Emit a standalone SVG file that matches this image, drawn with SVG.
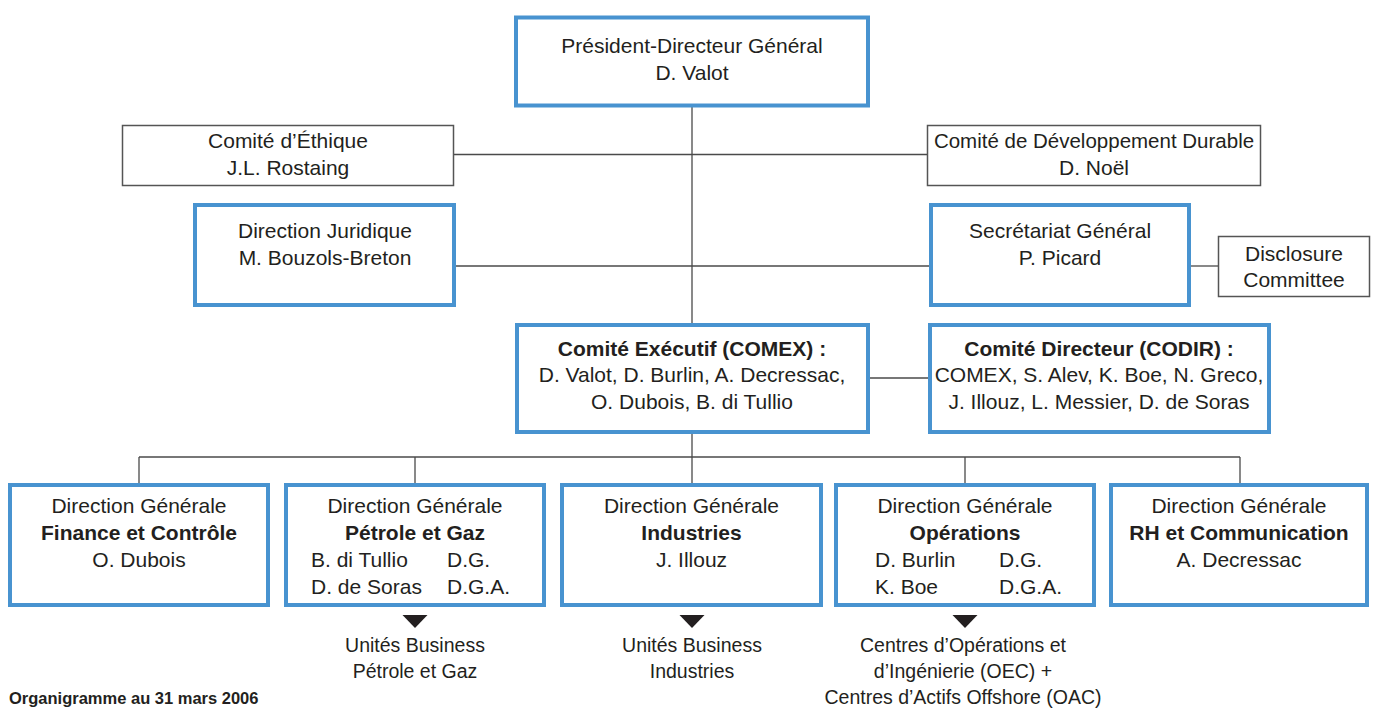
<svg xmlns="http://www.w3.org/2000/svg" width="1378" height="708" viewBox="0 0 1378 708">
<style>
  .blue { fill: #ffffff; stroke: #4893d0; stroke-width: 4; }
  .thin { fill: #ffffff; stroke: #555555; stroke-width: 1.5; }
  .conn { stroke: #4a4a4a; stroke-width: 1.3; fill: none; }
  text { font-family: "Liberation Sans", Arial, sans-serif; font-size: 21px; fill: #231f20; }
  .c { text-anchor: middle; }
  .b { font-weight: bold; }
  .cap { font-size: 19.5px; }
  .foot { font-size: 16.5px; font-weight: bold; }
  .tri { fill: #231f20; }
</style>
<rect width="1378" height="708" fill="#ffffff"/>

<g id="connectors">
  <line class="conn" x1="692" y1="107" x2="692" y2="324"/>
  <line class="conn" x1="454" y1="154.5" x2="928" y2="154.5"/>
  <line class="conn" x1="456" y1="266" x2="929" y2="266"/>
  <line class="conn" x1="1191" y1="266" x2="1218" y2="266"/>
  <line class="conn" x1="869" y1="378" x2="929" y2="378"/>
  <line class="conn" x1="692" y1="433" x2="692" y2="483"/>
  <line class="conn" x1="139" y1="457" x2="1240" y2="457"/>
  <line class="conn" x1="139" y1="457" x2="139" y2="483"/>
  <line class="conn" x1="415" y1="457" x2="415" y2="483"/>
  <line class="conn" x1="965" y1="457" x2="965" y2="483"/>
  <line class="conn" x1="1240" y1="457" x2="1240" y2="483"/>
  <polygon class="tri" points="402.5,615 427.5,615 415,628"/>
  <polygon class="tri" points="679.5,615 704.5,615 692,628"/>
  <polygon class="tri" points="952.5,615 977.5,615 965,628"/>
</g>

<g id="pdg">
  <rect class="blue" x="516" y="17.5" width="352" height="88"/>
  <text class="c" x="692" y="53">Président-Directeur Général</text>
  <text class="c" x="692" y="80">D. Valot</text>
</g>

<g id="ethique">
  <rect class="thin" x="122.5" y="125.5" width="331" height="60"/>
  <text class="c" x="288" y="148">Comité d’Éthique</text>
  <text class="c" x="288" y="175">J.L. Rostaing</text>
</g>

<g id="dev-durable">
  <rect class="thin" x="927.5" y="125.5" width="333" height="60"/>
  <text class="c" x="1094" y="148" style="font-size:20.5px">Comité de Développement Durable</text>
  <text class="c" x="1094" y="175">D. Noël</text>
</g>

<g id="juridique">
  <rect class="blue" x="195" y="205" width="259" height="100"/>
  <text class="c" x="325" y="238">Direction Juridique</text>
  <text class="c" x="325" y="265">M. Bouzols-Breton</text>
</g>

<g id="secretariat">
  <rect class="blue" x="931" y="205" width="258" height="100"/>
  <text class="c" x="1060" y="238">Secrétariat Général</text>
  <text class="c" x="1060" y="265">P. Picard</text>
</g>

<g id="disclosure">
  <rect class="thin" x="1218.5" y="236.5" width="151" height="60"/>
  <text class="c" x="1294" y="261">Disclosure</text>
  <text class="c" x="1294" y="287">Committee</text>
</g>

<g id="comex">
  <rect class="blue" x="517" y="325" width="351" height="107"/>
  <text class="c b" x="692" y="356">Comité Exécutif (COMEX) :</text>
  <text class="c" x="692" y="382">D. Valot, D. Burlin, A. Decressac,</text>
  <text class="c" x="692" y="409">O. Dubois, B. di Tullio</text>
</g>

<g id="codir">
  <rect class="blue" x="930" y="325" width="339" height="107"/>
  <text class="c b" x="1099" y="356">Comité Directeur (CODIR) :</text>
  <text class="c" x="1099" y="382">COMEX, S. Alev, K. Boe, N. Greco,</text>
  <text class="c" x="1099" y="409">J. Illouz, L. Messier, D. de Soras</text>
</g>

<g id="dg-finance">
  <rect class="blue" x="10" y="485" width="258" height="120"/>
  <text class="c" x="139" y="513">Direction Générale</text>
  <text class="c b" x="139" y="540">Finance et Contrôle</text>
  <text class="c" x="139" y="567">O. Dubois</text>
</g>

<g id="dg-petrole">
  <rect class="blue" x="286" y="485" width="258" height="120"/>
  <text class="c" x="415" y="513">Direction Générale</text>
  <text class="c b" x="415" y="540">Pétrole et Gaz</text>
  <text x="311" y="567">B. di Tullio</text>
  <text x="447" y="567">D.G.</text>
  <text x="311" y="594">D. de Soras</text>
  <text x="447" y="594">D.G.A.</text>
</g>

<g id="dg-industries">
  <rect class="blue" x="562" y="485" width="259" height="120"/>
  <text class="c" x="691.5" y="513">Direction Générale</text>
  <text class="c b" x="691.5" y="540">Industries</text>
  <text class="c" x="691.5" y="567">J. Illouz</text>
</g>

<g id="dg-operations">
  <rect class="blue" x="836" y="485" width="258" height="120"/>
  <text class="c" x="965" y="513">Direction Générale</text>
  <text class="c b" x="965" y="540">Opérations</text>
  <text x="875" y="567">D. Burlin</text>
  <text x="999" y="567">D.G.</text>
  <text x="875" y="594">K. Boe</text>
  <text x="999" y="594">D.G.A.</text>
</g>

<g id="dg-rh">
  <rect class="blue" x="1111" y="485" width="256" height="120"/>
  <text class="c" x="1239" y="513">Direction Générale</text>
  <text class="c b" x="1239" y="540">RH et Communication</text>
  <text class="c" x="1239" y="567">A. Decressac</text>
</g>

<g id="ub-petrole">
  <text class="c cap" x="415" y="652">Unités Business</text>
  <text class="c cap" x="415" y="678">Pétrole et Gaz</text>
</g>

<g id="ub-industries">
  <text class="c cap" x="692" y="652">Unités Business</text>
  <text class="c cap" x="692" y="678">Industries</text>
</g>

<g id="centres">
  <text class="c cap" x="963" y="652">Centres d’Opérations et</text>
  <text class="c cap" x="963" y="678">d’Ingénierie (OEC) +</text>
  <text class="c cap" x="963" y="704">Centres d’Actifs Offshore (OAC)</text>
</g>

<text class="foot" x="9" y="704">Organigramme au 31 mars 2006</text>
</svg>
